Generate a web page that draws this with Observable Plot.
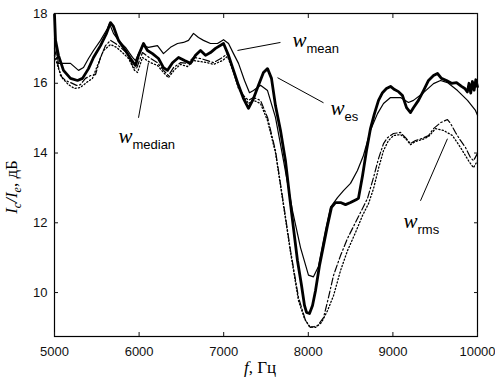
<!DOCTYPE html>
<html>
<head>
<meta charset="utf-8">
<script src="https://cdn.jsdelivr.net/npm/d3@7"></script>
<script src="https://cdn.jsdelivr.net/npm/@observablehq/plot@0.6"></script>
<style>
  html, body { margin: 0; padding: 0; background: #fff; }
  #chart { width: 495px; height: 380px; }
</style>
</head>
<body>
<div id="chart"></div>
<script>
// ---- data (frequency in Hz, level in dB) ----
const xTicks = [5000, 6000, 7000, 8000, 9000, 10000];
const yTicks = [10, 12, 14, 16, 18];

const esFreq  = [5000,5012,5047,5106,5189,5272,5331,5402,5461,5544,5615,5662,5697,5756,5839,5898,5957,5993,6052,6099,6158,6229,6288,6336,6395,6466,6537,6608,6667,6726,6785,6844,6903,6998,7057,7116,7175,7234,7293,7352,7411,7470,7518,7565,7612,7671,7730,7778,7825,7872,7920,7955,7979,8014,8050,8085,8132,8180,8227,8274,8321,8381,8440,8499,8570,8593,8641,8688,8735,8782,8830,8877,8924,8972,9019,9066,9113,9161,9208,9243,9302,9362,9421,9480,9527,9574,9633,9693,9752,9811,9850,9880,9900,9920,9940,9960,9980,10000];
const esLevel = [17.97,17.23,16.80,16.37,16.14,16.08,16.14,16.42,16.74,17.08,17.43,17.74,17.63,17.23,16.94,16.71,16.51,16.80,17.14,16.94,16.85,16.71,16.45,16.37,16.59,16.74,16.65,16.57,16.80,16.94,16.80,16.88,17.00,17.14,16.80,16.37,15.94,15.56,15.28,15.56,15.94,16.31,16.42,16.14,15.36,14.65,13.78,12.78,11.84,10.92,10.20,9.63,9.43,9.40,9.63,10.05,10.77,11.35,11.92,12.44,12.58,12.58,12.52,12.58,12.67,12.70,13.35,14.07,14.70,15.13,15.51,15.73,15.85,15.91,15.82,15.76,15.65,15.30,15.16,15.30,15.51,15.79,16.08,16.22,16.28,16.14,16.08,16.00,16.02,15.91,15.85,15.75,16.00,15.72,16.05,15.80,16.10,15.90];

const meanFreq  = [5000,5047,5189,5284,5343,5402,5461,5544,5626,5650,5697,5756,5839,5922,5957,6040,6111,6217,6288,6371,6454,6525,6584,6643,6702,6761,6844,6927,6998,7057,7116,7175,7246,7305,7352,7435,7518,7612,7707,7813,7908,8002,8061,8120,8168,8203,8262,8345,8416,8499,8581,8652,8735,8818,8889,8972,9090,9184,9243,9362,9480,9563,9645,9764,9882,9976,10000];
const meanLevel = [17.28,16.57,16.57,16.37,16.45,16.71,16.94,17.23,17.57,17.71,17.43,17.23,17.03,16.74,16.65,17.08,17.03,17.08,16.85,17.03,17.14,17.17,17.23,17.43,17.31,17.23,17.14,17.14,17.25,17.14,16.85,16.57,16.08,15.73,15.79,15.94,15.79,15.02,13.78,12.35,11.29,10.50,10.45,10.75,11.35,11.78,12.44,12.72,12.92,13.13,13.50,13.93,14.65,15.13,15.42,15.59,15.59,15.45,15.51,15.73,15.99,16.08,16.02,15.79,15.51,15.22,15.08];

const medianFreq  = [5000,5035,5071,5130,5189,5260,5307,5366,5426,5485,5544,5603,5662,5721,5780,5863,5934,5969,6040,6135,6217,6288,6347,6407,6489,6572,6643,6726,6808,6879,6986,7045,7116,7175,7234,7293,7352,7435,7518,7612,7707,7790,7884,7967,8026,8109,8180,8239,8298,8381,8463,8558,8641,8700,8771,8830,8889,8936,9007,9090,9149,9208,9267,9350,9421,9480,9563,9645,9681,9740,9799,9858,9917,9953,10000];
const medianLevel = [17.00,16.59,16.22,16.08,16.02,15.94,15.96,16.14,16.22,16.25,16.74,17.08,17.23,17.14,17.03,16.85,16.45,16.42,16.88,16.71,16.59,16.37,16.22,16.45,16.59,16.57,16.74,16.71,16.65,16.59,16.74,16.85,16.37,15.88,15.65,15.51,15.59,15.51,15.02,14.07,12.55,11.20,9.86,9.20,9.00,9.05,9.28,9.86,10.49,11.06,11.55,12.01,12.41,12.70,13.30,13.84,14.27,14.44,14.56,14.59,14.44,14.27,14.36,14.42,14.50,14.70,14.87,14.96,14.85,14.59,14.36,14.16,13.87,13.78,13.99];

const rmsFreq  = [5000,5047,5095,5166,5236,5307,5378,5449,5508,5579,5662,5733,5804,5875,5946,5981,6040,6135,6217,6288,6347,6419,6489,6572,6643,6726,6808,6879,6986,7045,7116,7175,7234,7293,7352,7435,7518,7612,7707,7790,7884,7955,8014,8085,8156,8227,8298,8381,8463,8558,8641,8712,8771,8830,8889,8948,9007,9090,9149,9208,9267,9350,9421,9504,9598,9704,9799,9894,9953,10000];
const rmsLevel = [16.80,16.42,16.14,15.96,15.85,15.88,16.02,16.14,16.51,16.94,17.11,17.03,16.88,16.71,16.37,16.31,16.74,16.59,16.51,16.31,16.16,16.39,16.54,16.48,16.65,16.62,16.59,16.54,16.65,16.77,16.31,15.85,15.62,15.42,15.51,15.42,14.93,14.01,12.49,11.15,9.77,9.25,9.02,9.00,9.14,9.48,9.91,10.63,11.20,11.72,12.21,12.55,12.98,13.56,14.07,14.36,14.50,14.53,14.42,14.24,14.33,14.39,14.47,14.70,14.65,14.50,14.16,13.78,13.58,13.78];

// annotations: label text, subscript, anchor of the text, leader line ends (data units)
const labelSub   = ["mean", "es", "median", "rms"];
const labelFreq  = [7813, 8262, 5756, 9125];
const labelLevel = [17.03, 15.10, 14.30, 11.86];
const leaderFreq1  = [7163, 7636, 5993, 9326];
const leaderLevel1 = [16.94, 16.16, 15.01, 12.63];
const leaderFreq2  = [7671, 8180, 6111, 9645];
const leaderLevel2 = [17.17, 15.44, 16.59, 14.41];

// ---- build tables ----
const toRows = (fs, vs) => fs.map((f, i) => ({f, v: vs[i]}));
const es = toRows(esFreq, esLevel);
const mean = toRows(meanFreq, meanLevel);
const median = toRows(medianFreq, medianLevel);
const rms = toRows(rmsFreq, rmsLevel);
const labels = labelSub.map((s, i) => ({sub: s, f: labelFreq[i], v: labelLevel[i]}));
const leaders = labelSub.map((s, i) => ({x1: leaderFreq1[i], y1: leaderLevel1[i], x2: leaderFreq2[i], y2: leaderLevel2[i]}));

const W = 495, H = 380;
const chart = Plot.plot({
  width: W,
  height: H,
  marginLeft: 54,
  marginRight: 18,
  marginTop: 13,
  marginBottom: 44,
  style: {fontFamily: "'Liberation Sans', Arial, sans-serif", fontSize: "13px", color: "#111", background: "#fff"},
  x: {domain: [5000, 10000], label: null},
  y: {domain: [8.74, 18], label: null},
  marks: [
    Plot.frame({stroke: "#000", strokeWidth: 1.2}),
    Plot.axisX({ticks: xTicks, tickSize: 0, tickPadding: 10, tickFormat: d => String(d), label: null, fontSize: 13}),
    Plot.axisX({ticks: xTicks, tickSize: -4, text: null, label: null, anchor: "bottom"}),
    Plot.axisX({ticks: xTicks, tickSize: -4, text: null, label: null, anchor: "top"}),
    Plot.axisY({ticks: yTicks, tickSize: 0, tickPadding: 7, label: null, fontSize: 13}),
    Plot.axisY({ticks: yTicks, tickSize: -4, text: null, label: null, anchor: "left"}),
    Plot.axisY({ticks: yTicks, tickSize: -4, text: null, label: null, anchor: "right"}),
    Plot.line(rms, {x: "f", y: "v", stroke: "#000", strokeWidth: 1.3, strokeDasharray: "1.2,2.2", strokeLinecap: "round"}),
    Plot.line(median, {x: "f", y: "v", stroke: "#000", strokeWidth: 1.2, strokeDasharray: "7,2.5,1.5,2.5"}),
    Plot.line(mean, {x: "f", y: "v", stroke: "#000", strokeWidth: 1.2, strokeLinejoin: "round"}),
    Plot.line(es, {x: "f", y: "v", stroke: "#000", strokeWidth: 2.8, strokeLinejoin: "round"}),
    Plot.link(leaders, {x1: "x1", y1: "y1", x2: "x2", y2: "y2", stroke: "#000", strokeWidth: 1}),
    Plot.text(labels, {x: "f", y: "v", text: () => "w", textAnchor: "start", lineAnchor: "bottom",
      fontFamily: "'Liberation Serif', 'Times New Roman', serif", fontStyle: "italic", fontSize: 21, fill: "#000"}),
    Plot.text(labels, {x: "f", y: "v", text: "sub", textAnchor: "start", lineAnchor: "bottom", dx: 14, dy: 6,
      fontFamily: "'Liberation Sans', Arial, sans-serif", fontSize: 13, fill: "#000"})
  ]
});

// axis titles with subscripts / italics
const svg = d3.select(chart);
const yl = svg.append("text")
  .attr("transform", "translate(17,187) rotate(-90)")
  .attr("text-anchor", "middle")
  .attr("font-family", "'Liberation Serif', 'Times New Roman', serif")
  .attr("font-size", 17)
  .attr("fill", "#000");
yl.append("tspan").attr("font-style", "italic").text("I");
yl.append("tspan").attr("font-style", "italic").attr("font-size", 12).attr("dy", 4).text("c");
yl.append("tspan").attr("font-style", "italic").attr("dy", -4).text("/I");
yl.append("tspan").attr("font-style", "italic").attr("font-size", 12).attr("dy", 4).text("e");
yl.append("tspan").attr("dy", -4).text(", дБ");

const xl = svg.append("text")
  .attr("x", 260).attr("y", 373)
  .attr("text-anchor", "middle")
  .attr("font-family", "'Liberation Serif', 'Times New Roman', serif")
  .attr("font-size", 17)
  .attr("fill", "#000");
xl.append("tspan").attr("font-style", "italic").text("f");
xl.append("tspan").text(", Гц");

document.getElementById("chart").appendChild(chart);
</script>
</body>
</html>
